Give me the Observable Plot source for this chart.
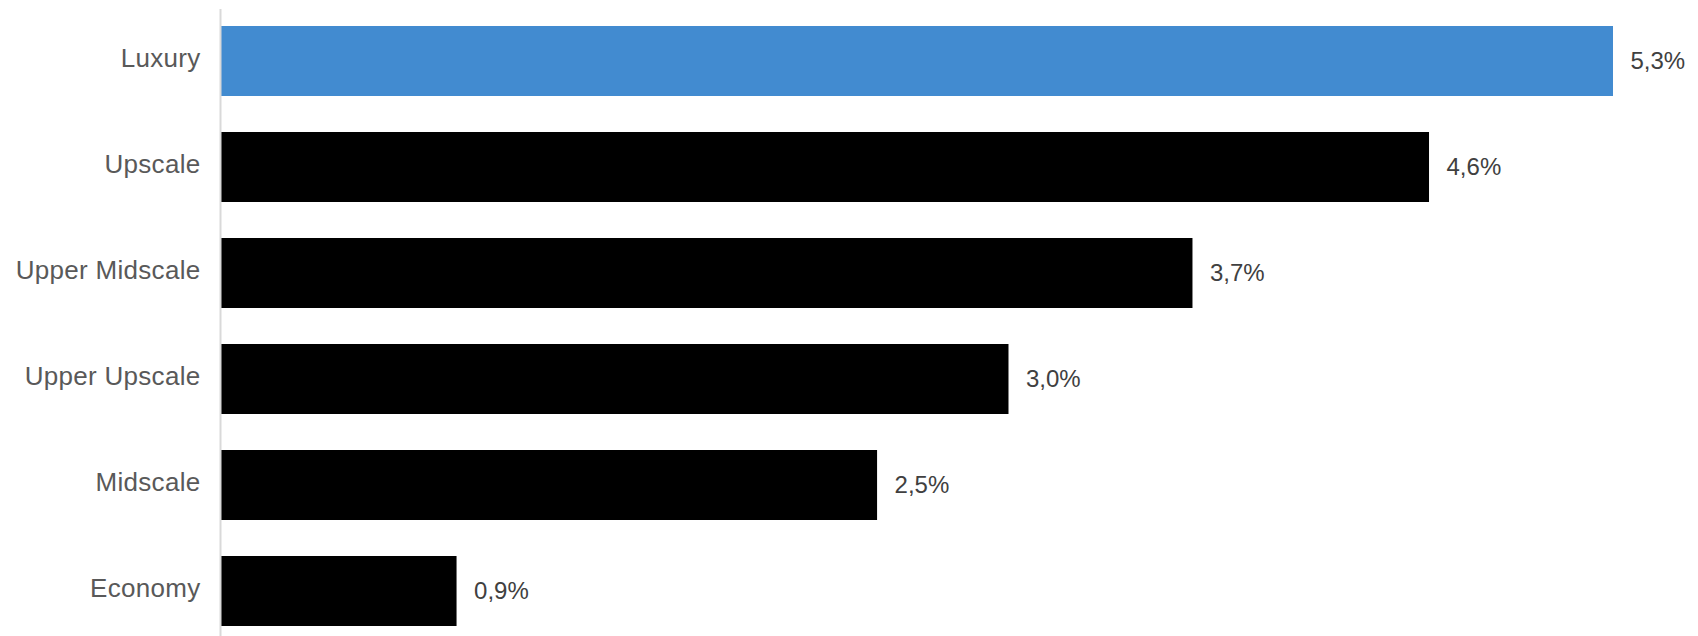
<!DOCTYPE html>
<html>
<head>
<meta charset="utf-8">
<script src="https://cdn.jsdelivr.net/npm/d3@7"></script>
<script src="https://cdn.jsdelivr.net/npm/@observablehq/plot@0.6"></script>
<style>
  html, body { margin: 0; padding: 0; background: #ffffff; }
  #chart svg { display: block; }
  #chart svg g[aria-label="y-axis tick label"] text { letter-spacing: 0.3px; }
</style>
</head>
<body>
<div id="chart"></div>
<script>
const categories = ["Luxury", "Upscale", "Upper Midscale", "Upper Upscale", "Midscale", "Economy"];
const values = [5.3, 4.6, 3.7, 3.0, 2.5, 0.9];
const highlight = "Luxury";

const data = categories.map((c, i) => ({category: c, value: values[i]}));
const fmt = v => v.toFixed(1).replace(".", ",") + "%";

const chart = Plot.plot({
  width: 1698,
  height: 636,
  marginLeft: 220,
  marginRight: 85,
  marginTop: 17,
  marginBottom: 0,
  style: {fontFamily: "'Liberation Sans', Arial, sans-serif", background: "#ffffff"},
  x: {domain: [0, 5.3], axis: null},
  y: {domain: categories, paddingInner: 0.335, paddingOuter: 0.085, label: null, tickSize: 0, tickPadding: 20},
  marks: [
    Plot.barX(data, {
      x: "value",
      y: "category",
      fill: d => d.category === highlight ? "#428bd0" : "#000000"
    }),
    Plot.ruleX([0], {stroke: "#d9d9d9", strokeWidth: 2, insetTop: -8}),
    Plot.axisY({tickSize: 0, tickPadding: 20, fontSize: 26, fill: "#595959", dy: -3, label: null}),
    Plot.text(data, {
      x: "value",
      y: "category",
      text: d => fmt(d.value),
      textAnchor: "start",
      dx: 17,
      fontSize: 24,
      fill: "#404040"
    })
  ]
});
document.getElementById("chart").appendChild(chart);
</script>
</body>
</html>
